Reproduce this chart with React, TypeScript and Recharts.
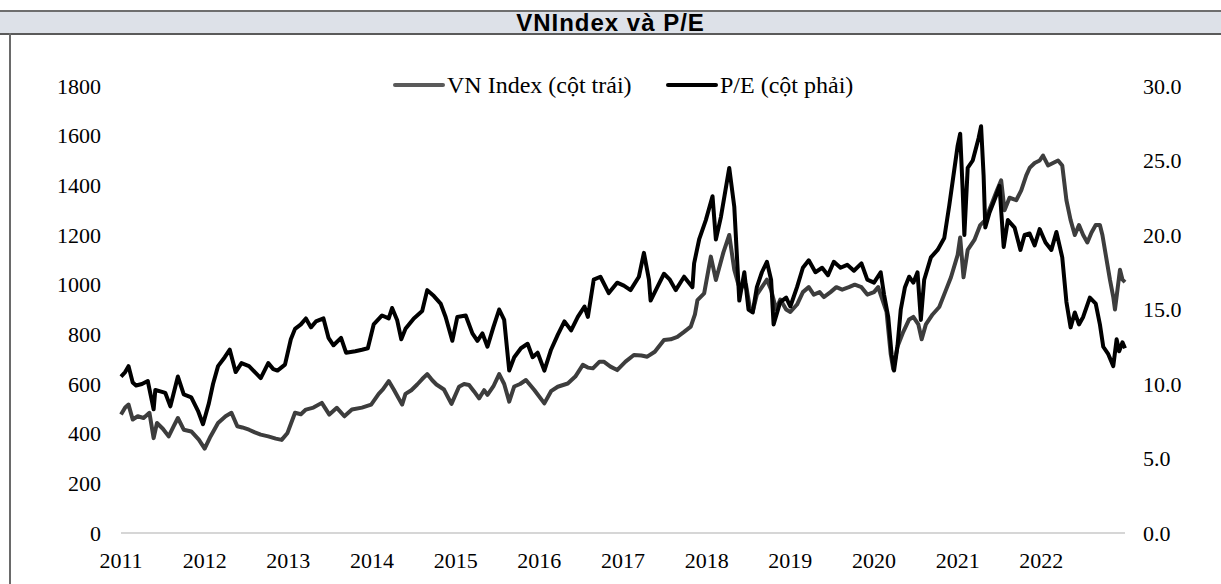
import React from "react";
import { LineChart, Line, XAxis, YAxis, Legend, ReferenceLine } from "recharts";

const yearTicks = [2011, 2012, 2013, 2014, 2015, 2016, 2017, 2018, 2019, 2020, 2021, 2022];
const leftTicks = [0, 200, 400, 600, 800, 1000, 1200, 1400, 1600, 1800];
const rightTicks = [0, 5, 10, 15, 20, 25, 30];

const vnDates = [
  2011.0, 2011.05, 2011.09, 2011.14, 2011.2, 2011.27, 2011.34, 2011.39, 2011.43, 2011.5, 2011.57, 2011.63, 2011.68, 2011.75, 2011.84, 2011.93,
  2012.0, 2012.07, 2012.16, 2012.25, 2012.32, 2012.39, 2012.45, 2012.53, 2012.6, 2012.67, 2012.76, 2012.85, 2012.92, 2012.99,
  2013.08, 2013.15, 2013.21, 2013.3, 2013.4, 2013.49, 2013.58, 2013.67, 2013.76, 2013.88, 2013.99,
  2014.08, 2014.13, 2014.2, 2014.26, 2014.36, 2014.4, 2014.47, 2014.54, 2014.6, 2014.66, 2014.72, 2014.77, 2014.86, 2014.95,
  2015.04, 2015.1, 2015.16, 2015.22, 2015.28, 2015.34, 2015.38, 2015.45, 2015.52, 2015.58, 2015.64, 2015.7, 2015.77, 2015.84, 2015.94,
  2016.06, 2016.14, 2016.22, 2016.34, 2016.43, 2016.52, 2016.58, 2016.64, 2016.72, 2016.77, 2016.85, 2016.93,
  2017.03, 2017.13, 2017.22, 2017.29, 2017.38, 2017.49, 2017.57, 2017.65, 2017.73, 2017.81, 2017.86, 2017.89, 2017.97,
  2018.05, 2018.11, 2018.2, 2018.27, 2018.33, 2018.38, 2018.42, 2018.47, 2018.52, 2018.55, 2018.6, 2018.66, 2018.72, 2018.77, 2018.83, 2018.88, 2018.95,
  2019.0, 2019.08, 2019.15, 2019.22, 2019.28, 2019.35, 2019.4, 2019.48, 2019.55, 2019.62, 2019.7, 2019.77, 2019.85, 2019.92,
  2020.0, 2020.05, 2020.1, 2020.15, 2020.2, 2020.23, 2020.28, 2020.35, 2020.42, 2020.47, 2020.53, 2020.57, 2020.62, 2020.7, 2020.78, 2020.85, 2020.92,
  2021.0, 2021.03, 2021.07, 2021.12, 2021.2, 2021.27, 2021.33, 2021.4, 2021.47, 2021.52, 2021.56, 2021.62, 2021.7, 2021.76, 2021.82, 2021.86, 2021.92, 2021.98,
  2022.02, 2022.08, 2022.14, 2022.2, 2022.25, 2022.3, 2022.35, 2022.4, 2022.45, 2022.5, 2022.55, 2022.6, 2022.65, 2022.7, 2022.73, 2022.78, 2022.82, 2022.86, 2022.88, 2022.91, 2022.94, 2022.97, 2023.0,
];
const vnValues = [
  477, 505, 517, 457, 470, 463, 484, 382, 443, 420, 389, 430, 463, 416, 409, 376,
  340, 389, 443, 470, 484, 430, 425, 416, 405, 396, 389, 380, 375, 403,
  484, 478, 497, 505, 524, 477, 504, 470, 497, 505, 517,
  560, 578, 612, 578, 517, 560, 575, 598, 620, 640, 615, 598, 578, 520,
  589, 600, 596, 570, 542, 575, 556, 590, 640, 600, 529, 590, 600, 616, 576,
  522, 571, 589, 602, 630, 677, 666, 663, 690, 690, 670, 656,
  690, 717, 715, 710, 730, 777, 780, 790, 810, 831, 880, 938, 965,
  1113, 1019, 1130, 1200, 1060, 1000, 990, 1000, 900, 890, 960, 990, 1020, 980, 900, 940, 900,
  890, 920, 970, 990, 960, 970, 950, 970, 990, 980, 990, 1000, 990, 960,
  970, 990, 940, 890, 720, 660, 750, 810, 860, 870, 840, 780, 840, 880, 910, 970, 1030,
  1120, 1190, 1030, 1140, 1180, 1240, 1260, 1320, 1380, 1420, 1300, 1350, 1340, 1380, 1440, 1470, 1490, 1500,
  1520, 1480, 1490, 1500, 1480, 1340, 1260, 1200, 1240, 1200, 1170, 1210, 1240, 1240, 1200, 1100, 1020, 950, 900, 980, 1060, 1020, 1010,
];

const peDates = [
  2011.0, 2011.05, 2011.09, 2011.14, 2011.18, 2011.25, 2011.32, 2011.39, 2011.41, 2011.47, 2011.53, 2011.59, 2011.68, 2011.75, 2011.84, 2011.92, 2011.98,
  2012.05, 2012.1, 2012.16, 2012.24, 2012.3, 2012.37, 2012.44, 2012.53, 2012.6, 2012.67, 2012.76, 2012.82, 2012.87, 2012.96,
  2013.03, 2013.08, 2013.15, 2013.21, 2013.27, 2013.33, 2013.42, 2013.48, 2013.54, 2013.63, 2013.69, 2013.8, 2013.88, 2013.95,
  2014.02, 2014.12, 2014.2, 2014.24, 2014.3, 2014.35, 2014.4, 2014.5, 2014.6, 2014.66, 2014.74, 2014.82, 2014.88, 2014.96,
  2015.02, 2015.12, 2015.2, 2015.26, 2015.32, 2015.38, 2015.45, 2015.52, 2015.58, 2015.64, 2015.7, 2015.78, 2015.86, 2015.92, 2015.98,
  2016.06, 2016.14, 2016.22, 2016.3, 2016.38, 2016.46, 2016.54, 2016.58, 2016.65, 2016.73, 2016.83, 2016.93,
  2017.01, 2017.09, 2017.19, 2017.25, 2017.31, 2017.33, 2017.41, 2017.49, 2017.56, 2017.63, 2017.73, 2017.83, 2017.85, 2017.91, 2017.99,
  2018.07, 2018.11, 2018.17, 2018.27, 2018.33, 2018.39, 2018.45, 2018.5, 2018.55, 2018.6, 2018.66, 2018.72, 2018.77, 2018.8, 2018.88, 2018.95,
  2019.0, 2019.08, 2019.15, 2019.22, 2019.3, 2019.38, 2019.45, 2019.52, 2019.6, 2019.68, 2019.76, 2019.85, 2019.92,
  2020.0, 2020.08, 2020.12, 2020.17, 2020.21, 2020.24, 2020.28, 2020.32, 2020.37, 2020.42, 2020.47, 2020.52, 2020.56, 2020.6, 2020.68, 2020.76, 2020.84, 2020.9, 2020.95,
  2021.0, 2021.03, 2021.06, 2021.08, 2021.12, 2021.18, 2021.25, 2021.28, 2021.31, 2021.33, 2021.38, 2021.45, 2021.5, 2021.55, 2021.6, 2021.68, 2021.75, 2021.8, 2021.86, 2021.92, 2021.98,
  2022.05, 2022.12, 2022.18, 2022.25, 2022.3, 2022.35, 2022.4, 2022.45, 2022.5, 2022.58, 2022.65, 2022.7, 2022.74, 2022.8, 2022.86, 2022.9, 2022.93, 2022.97, 2023.0,
];
const peValues = [
  10.5, 10.8, 11.2, 10.1, 9.9, 10.0, 10.2, 8.3, 9.6, 9.5, 9.4, 8.5, 10.5, 9.3, 9.1, 8.2, 7.3,
  8.7, 10.0, 11.2, 11.8, 12.3, 10.8, 11.4, 11.2, 10.8, 10.4, 11.4, 11.0, 10.9, 11.3,
  13.0, 13.7, 14.0, 14.4, 13.8, 14.2, 14.4, 13.1, 12.6, 13.1, 12.1, 12.2, 12.3, 12.4,
  14.0, 14.6, 14.4, 15.1, 14.3, 13.0, 13.7, 14.4, 14.9, 16.3, 15.9, 15.4, 14.5, 12.9,
  14.5, 14.6, 13.4, 12.9, 13.4, 12.5, 13.8, 15.0, 14.3, 10.9, 11.8, 12.4, 12.7, 11.8, 12.1,
  10.9, 12.3, 13.3, 14.2, 13.6, 14.5, 15.2, 14.5, 17.0, 17.2, 16.1, 16.8,
  16.6, 16.3, 17.2, 18.8, 17.0, 15.6, 16.5, 17.4, 17.0, 16.3, 17.2, 16.5, 18.1, 19.7, 21.0,
  22.6, 19.7, 21.2, 24.5, 21.9, 15.6, 17.5, 15.0, 14.8, 16.5, 17.5, 18.2, 17.0, 14.0, 15.5, 15.8,
  15.2, 16.5, 17.8, 18.3, 17.5, 17.8, 17.3, 18.2, 17.8, 18.0, 17.6, 18.1, 17.0,
  16.8, 17.5, 16.0, 14.5, 12.0, 10.9, 12.5, 15.0, 16.5, 17.2, 16.8, 17.5, 14.3, 17.0, 18.5, 19.0, 19.8, 22.0, 24.0,
  26.0, 26.8, 23.0, 20.0, 24.5, 25.0, 26.5, 27.3, 24.0, 20.5, 21.5, 22.5, 23.3, 19.2, 21.0, 20.5, 19.0, 20.0, 20.1, 19.3, 20.4,
  19.5, 19.0, 20.2, 18.5, 15.5, 13.8, 14.8, 14.0, 14.5, 15.8, 15.4, 14.0, 12.5, 12.0, 11.2, 13.0, 12.2, 12.8, 12.4,
];

const vnData = vnDates.map((t, i) => ({ t, v: vnValues[i] }));
const peData = peDates.map((t, i) => ({ t, v: peValues[i] }));

const VN_NAME = "VN Index (cột trái)";
const PE_NAME = "P/E (cột phải)";
const legendOrder = [VN_NAME, PE_NAME];

const SERIF = "'Liberation Serif', 'Times New Roman', serif";
const VN_COLOR = "#3d3d3d";
const PE_COLOR = "#000000";

const LegendContent = (props: any) => {
  const payload = [...(props.payload || [])].sort(
    (a: any, b: any) => legendOrder.indexOf(a.value) - legendOrder.indexOf(b.value)
  );
  const lefts = [393, 666];
  return (
    <div style={{ position: "relative", width: 1221, height: 30, fontFamily: SERIF, fontSize: 24, color: "#000" }}>
      {payload.map((p: any, i: number) => (
        <div key={p.value} style={{ position: "absolute", left: lefts[i], top: 0, height: 30, display: "flex", alignItems: "center", whiteSpace: "nowrap" }}>
          <div style={{ width: 52, height: 4, background: p.value === VN_NAME ? "#5a5a5a" : "#000", borderRadius: 2, marginRight: 2 }} />
          <span>{p.value}</span>
        </div>
      ))}
    </div>
  );
};

export default function App() {
  return (
    <div style={{ position: "absolute", left: 0, top: 0, width: 1221, height: 584, background: "#fff", overflow: "hidden" }}>
      <div
        style={{
          position: "absolute",
          left: 0,
          top: 10,
          width: 1221,
          height: 21,
          background: "#dde1e8",
          borderTop: "2px solid #6e6e6e",
          borderBottom: "2px solid #5a5a5a",
          textAlign: "center",
          fontFamily: "'Liberation Sans', Arial, sans-serif",
          fontWeight: "bold",
          fontSize: 24,
          letterSpacing: "1px",
          lineHeight: "21px",
          color: "#000",
        }}
      >
        VNIndex và P/E
      </div>
      <div style={{ position: "absolute", left: 9, top: 33, width: 2, height: 551, background: "#6a6a6a" }} />
      <div style={{ position: "absolute", left: 0, top: 0 }}>
        <LineChart width={1221} height={584} margin={{ top: 86, right: 0, bottom: 0, left: 0 }}>
          <XAxis
            dataKey="t"
            type="number"
            domain={[2011, 2023]}
            ticks={yearTicks}
            axisLine={false}
            tickLine={false}
            tickSize={0}
            tickMargin={19}
            height={51}
            allowDuplicatedCategory={false}
            tick={{ fontFamily: SERIF, fontSize: 22, fill: "#000" }}
          />
          <YAxis
            yAxisId="left"
            orientation="left"
            domain={[0, 1800]}
            ticks={leftTicks}
            axisLine={false}
            tickLine={false}
            tickSize={0}
            tickMargin={20}
            width={121}
            tick={{ fontFamily: SERIF, fontSize: 22, fill: "#000" }}
          />
          <YAxis
            yAxisId="right"
            orientation="right"
            domain={[0, 30]}
            ticks={rightTicks}
            axisLine={false}
            tickLine={false}
            tickSize={0}
            tickMargin={18}
            width={96}
            tickFormatter={(v: number) => v.toFixed(1)}
            tick={{ fontFamily: SERIF, fontSize: 22, fill: "#000" }}
          />
          <ReferenceLine yAxisId="left" y={0} stroke="#d6d6d6" strokeWidth={2} />
          <Legend
            layout="horizontal"
            verticalAlign="middle"
            align="center"
            wrapperStyle={{ position: "absolute", top: 70, left: 0, width: 1221 }}
            content={LegendContent}
          />
          <Line
            yAxisId="left"
            data={vnData}
            dataKey="v"
            name={VN_NAME}
            stroke={VN_COLOR}
            strokeWidth={4}
            dot={false}
            activeDot={false}
            isAnimationActive={false}
            strokeLinejoin="round"
          />
          <Line
            yAxisId="right"
            data={peData}
            dataKey="v"
            name={PE_NAME}
            stroke={PE_COLOR}
            strokeWidth={4}
            dot={false}
            activeDot={false}
            isAnimationActive={false}
            strokeLinejoin="round"
          />
        </LineChart>
      </div>
    </div>
  );
}
